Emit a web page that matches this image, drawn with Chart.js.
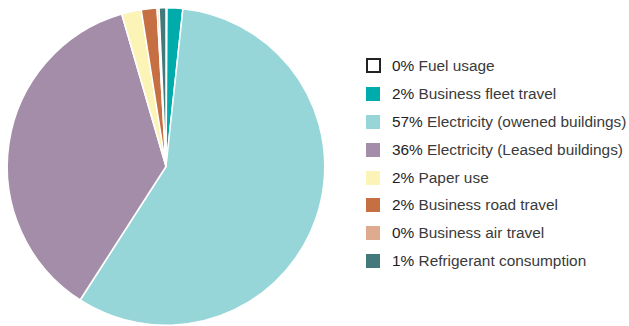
<!DOCTYPE html>
<html>
<head>
<meta charset="utf-8">
<script src="https://cdn.jsdelivr.net/npm/chart.js@4/dist/chart.umd.min.js"></script>
<style>
  html, body { margin: 0; padding: 0; background: #fff; }
  body { width: 629px; height: 326px; position: relative; overflow: hidden; font-family: "Liberation Sans", Arial, sans-serif; }
  #pieWrap { position: absolute; left: 0; top: 0; width: 332px; height: 326px; }
  #legend { position: absolute; left: 366px; top: 52px; margin: 0; padding: 0; list-style: none; }
  #legend li { height: 27.9px; display: flex; align-items: center; white-space: nowrap; font-size: 15.4px; color: #3a3a3a; }
  #legend .box { width: 14px; height: 14px; margin-right: 12px; box-sizing: border-box; flex: none; }
  #legend .pct { color: #1e1e1e; }
</style>
</head>
<body>
<div id="pieWrap"><canvas id="emissions"></canvas></div>
<ul id="legend"></ul>
<script>
// emission sources, clockwise from 12 o'clock
const categories = [
  "Fuel usage",
  "Business fleet travel",
  "Electricity (owened buildings)",
  "Electricity (Leased buildings)",
  "Paper use",
  "Business road travel",
  "Business air travel",
  "Refrigerant consumption"
];
const shares = [0.1, 1.6, 57.4, 36.4, 2.0, 1.6, 0.2, 0.7];
const colors = ["#ffffff", "#00abab", "#97d6d8", "#a48da8", "#fbf4b6", "#c66f43", "#deab8f", "#44797b"];

// legend on the right, built from the same arrays
const legendEl = document.getElementById("legend");
categories.forEach((name, i) => {
  const li = document.createElement("li");
  const box = document.createElement("span");
  box.className = "box";
  box.style.background = colors[i];
  if (colors[i] === "#ffffff") {
    box.style.border = "2px solid #222";
    box.style.width = "15px";
    box.style.height = "15px";
    box.style.marginRight = "11px";
  }
  const pct = document.createElement("span");
  pct.className = "pct";
  pct.textContent = Math.round(shares[i]) + "%";
  li.appendChild(box);
  li.appendChild(pct);
  li.appendChild(document.createTextNode("\u00a0" + name));
  legendEl.appendChild(li);
});

new Chart(document.getElementById("emissions"), {
  type: "pie",
  data: {
    labels: categories,
    datasets: [{
      data: shares,
      backgroundColor: colors,
      borderColor: "#ffffff",
      borderWidth: 1.5
    }]
  },
  options: {
    responsive: true,
    maintainAspectRatio: false,
    animation: false,
    layout: { padding: { left: 6, right: 6, top: 7, bottom: 0 } },
    plugins: {
      legend: { display: false },
      tooltip: { enabled: false }
    }
  }
});
</script>
</body>
</html>
